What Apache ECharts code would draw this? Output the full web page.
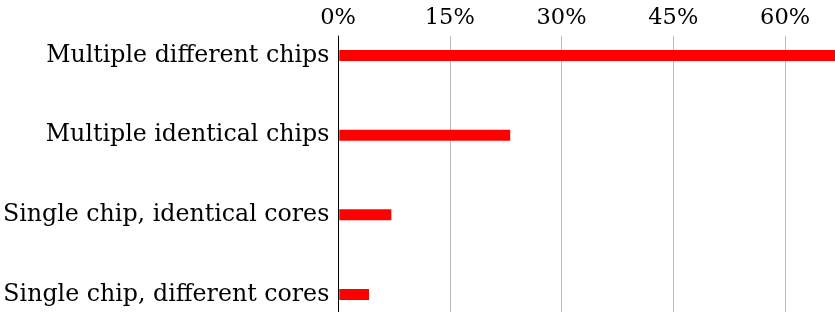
<!DOCTYPE html>
<html>
<head>
    <meta charset="UTF-8">
    <title>Chip configurations</title>
    <style>
        html, body { margin: 0; padding: 0; background: #fff; }
    </style>
</head>
<body>
<div id="chart" style="width: 835px;height: 312px;"></div>
<script src="https://cdn.jsdelivr.net/npm/echarts@6/dist/echarts.min.js"></script>
<script>
    var categories = ['Multiple different chips', 'Multiple identical chips', 'Single chip, identical cores', 'Single chip, different cores'];
    var shares = [66.7, 23.0, 7.0, 4.0];
    var ticks = [0, 15, 30, 45, 60];

    var font = '"DejaVu Serif", serif';
    var xMax = 66.7;

    var chart = echarts.init(document.getElementById('chart'));
    var option = {
        animation: false,
        grid: [
            // axes frame (full height)
            { left: 338, right: 0, top: 36, bottom: 0 },
            // bars
            { left: 338, right: 0, top: 55.5, bottom: 17.5 }
        ],
        xAxis: [{
            gridIndex: 0,
            type: 'value',
            position: 'top',
            min: 0,
            max: xMax,
            interval: 15,
            axisLine: { show: false },
            axisTick: { show: false },
            axisLabel: {
                margin: 6,
                color: '#000',
                fontFamily: font,
                fontSize: 22.5,
                showMaxLabel: false,
                formatter: function (v) { return ticks.indexOf(v) >= 0 ? v + '%' : ''; }
            },
            splitLine: { show: true, lineStyle: { color: '#bbbbbb', width: 1 } }
        }, {
            gridIndex: 1,
            type: 'value',
            min: 0,
            max: xMax,
            show: false
        }],
        yAxis: [{
            gridIndex: 0,
            type: 'value',
            min: 0,
            max: 1,
            axisLine: { show: true, onZero: false, lineStyle: { color: '#000', width: 1 } },
            axisTick: { show: false },
            axisLabel: { show: false },
            splitLine: { show: false }
        }, {
            gridIndex: 1,
            type: 'category',
            data: categories,
            inverse: true,
            boundaryGap: false,
            axisLine: { show: false },
            axisTick: { show: false },
            axisLabel: {
                margin: 10,
                color: '#000',
                fontFamily: font,
                fontSize: 23.7
            }
        }],
        series: [{
            type: 'bar',
            xAxisIndex: 1,
            yAxisIndex: 1,
            data: shares,
            barWidth: 11,
            itemStyle: { color: '#ff0000' },
            silent: true
        }]
    };
    chart.setOption(option);
</script>
</body>
</html>
